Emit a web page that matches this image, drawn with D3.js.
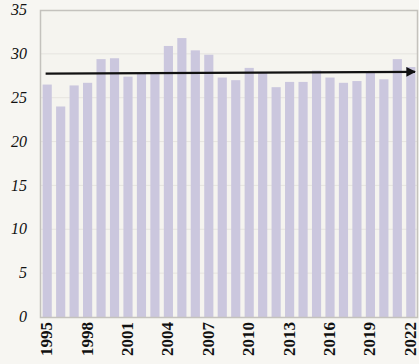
<!DOCTYPE html>
<html>
<head>
<meta charset="utf-8">
<script src="https://cdn.jsdelivr.net/npm/d3@7"></script>
<style>
  html, body { margin: 0; padding: 0; background: #f7f6f2; }
  svg { display: block; }
  .ylab { font-family: "Liberation Serif", "DejaVu Serif", serif; font-style: italic; font-size: 16px; fill: #111; font-variant-numeric: oldstyle-nums; }
  .xlab { font-family: "Liberation Serif", "DejaVu Serif", serif; font-weight: bold; font-size: 17px; fill: #111; font-variant-numeric: oldstyle-nums; }
</style>
</head>
<body>
<svg id="chart" width="419" height="364"></svg>
<script>
// Yearly values, 1995-2022
const years = d3.range(1995, 2023);
const values = [26.5, 24.0, 26.4, 26.7, 29.4, 29.5, 27.4, 27.7, 27.7, 30.9,
                31.8, 30.4, 29.9, 27.3, 27.0, 28.4, 27.9, 26.2, 26.8, 26.8,
                28.1, 27.3, 26.7, 26.9, 28.0, 27.1, 29.4, 28.5];
// Trend arrow: value at start and end
const trendValues = [27.75, 27.95];
const yTicks = [0, 5, 10, 15, 20, 25, 30, 35];
const xTickYears = [1995, 1998, 2001, 2004, 2007, 2010, 2013, 2016, 2019, 2022];

const svg = d3.select("#chart");
const plotLeft = 41, plotRight = 417, plotTop = 10, plotBottom = 317;

const x = d3.scaleBand().domain(years).range([plotLeft, plotRight])
  .paddingInner(0.32).paddingOuter(0.12);
const y = d3.scaleLinear().domain([0, 35]).range([plotBottom, plotTop]);

// plot background
svg.append("rect").attr("x", plotLeft).attr("y", plotTop)
  .attr("width", plotRight - plotLeft).attr("height", plotBottom - plotTop)
  .attr("fill", "#f5f4ef");

// gridlines
svg.append("g").selectAll("line").data(yTicks.slice(1, -1)).join("line")
  .attr("x1", plotLeft).attr("x2", plotRight)
  .attr("y1", d => y(d)).attr("y2", d => y(d))
  .attr("stroke", "#e6e4df").attr("stroke-width", 1);

// bars
svg.append("g").selectAll("rect").data(years).join("rect")
  .attr("x", d => x(d)).attr("width", x.bandwidth())
  .attr("y", (d, i) => y(values[i]))
  .attr("height", (d, i) => y(0) - y(values[i]))
  .attr("fill", "#cbc7de");

// frame
svg.append("rect").attr("x", plotLeft - 0.5).attr("y", plotTop + 0.5)
  .attr("width", plotRight - plotLeft + 1).attr("height", plotBottom - plotTop)
  .attr("fill", "none").attr("stroke", "#c4c2bd").attr("stroke-width", 1.5);

// y labels
svg.append("g").selectAll("text").data(yTicks).join("text")
  .attr("class", "ylab")
  .attr("x", 27).attr("y", d => y(d))
  .attr("dy", "0.32em").attr("text-anchor", "end")
  .text(d => d);

// x labels, rotated
svg.append("g").selectAll("text").data(xTickYears).join("text")
  .attr("class", "xlab")
  .attr("transform", d => `translate(${x(d) + x.bandwidth() / 2 + 5},${plotBottom + 5}) rotate(-90)`)
  .attr("text-anchor", "end")
  .text(d => d);

// trend arrow
svg.append("defs").append("marker")
  .attr("id", "arrow").attr("viewBox", "0 0 10 10")
  .attr("refX", 9).attr("refY", 5)
  .attr("markerWidth", 4).attr("markerHeight", 4)
  .attr("markerUnits", "strokeWidth")
  .attr("orient", "auto")
  .append("path").attr("d", "M0,0 L10,5 L0,10 z").attr("fill", "#111");

svg.append("line")
  .attr("x1", x(years[0]) + 3).attr("y1", y(trendValues[0]))
  .attr("x2", plotRight - 2).attr("y2", y(trendValues[1]))
  .attr("stroke", "#111").attr("stroke-width", 2.4)
  .attr("marker-end", "url(#arrow)");
</script>
</body>
</html>
